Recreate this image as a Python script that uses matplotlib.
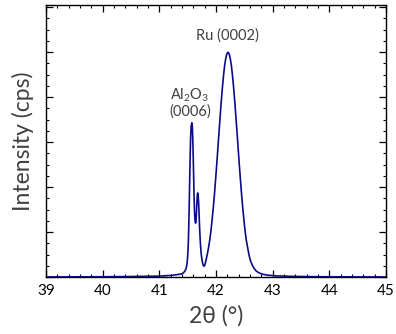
import matplotlib
matplotlib.use("Agg")
import matplotlib.pyplot as plt
from matplotlib.ticker import MultipleLocator, NullFormatter

plt.rcParams['font.family'] = ['Lato', 'DejaVu Sans']
plt.rcParams['mathtext.fontset'] = 'custom'
plt.rcParams['mathtext.rm'] = 'Lato'
plt.rcParams['mathtext.it'] = 'Lato:italic'

# 2theta (degrees)
two_theta = [39.0, 40.0, 40.5, 41.0, 41.2, 41.3, 41.40, 41.43, 41.45, 41.47,
             41.485, 41.495, 41.505, 41.513, 41.521, 41.529, 41.537, 41.545,
             41.553, 41.561, 41.566, 41.574, 41.582, 41.590, 41.598, 41.606,
             41.614, 41.622, 41.630, 41.638, 41.645, 41.652, 41.660, 41.668,
             41.676, 41.684, 41.692, 41.700, 41.708, 41.716, 41.724, 41.732,
             41.740, 41.753, 41.765, 41.775, 41.788, 41.800, 41.812, 41.832,
             41.852, 41.872, 41.892, 41.912, 41.932, 41.952, 41.972, 41.992,
             42.012, 42.032, 42.052, 42.072, 42.092, 42.112, 42.132, 42.152,
             42.172, 42.192, 42.212, 42.232, 42.252, 42.272, 42.292, 42.312,
             42.332, 42.352, 42.372, 42.392, 42.412, 42.432, 42.452, 42.472,
             42.492, 42.512, 42.532, 42.552, 42.572, 42.592, 42.612, 42.642,
             42.672, 42.712, 42.762, 42.812, 42.912, 43.062, 43.312, 43.612,
             44.012, 44.512, 45.0]
# intensity (arbitrary units; the y axis carries no labels)
intensity = [0.0, 0.005, 0.01, 0.02, 0.035, 0.05, 0.07, 0.10, 0.13, 0.18,
             0.26, 0.38, 0.56, 0.82, 1.20, 1.70, 2.25, 2.75,
             3.12, 3.35, 3.38, 3.43, 3.35, 3.08, 2.68, 2.20,
             1.75, 1.42, 1.25, 1.20, 1.21, 1.35, 1.58, 1.78,
             1.87, 1.84, 1.68, 1.45, 1.18, 0.95, 0.76, 0.62,
             0.50, 0.38, 0.30, 0.26, 0.24, 0.26, 0.31, 0.42,
             0.54, 0.68, 0.84, 1.04, 1.28, 1.54, 1.83, 2.15,
             2.49, 2.84, 3.20, 3.55, 3.89, 4.20, 4.47, 4.70,
             4.86, 4.965, 5.00, 4.965, 4.86, 4.70, 4.47, 4.20,
             3.89, 3.55, 3.20, 2.84, 2.49, 2.15, 1.83, 1.54,
             1.28, 1.04, 0.84, 0.70, 0.56, 0.44, 0.35, 0.26,
             0.19, 0.13, 0.09, 0.065, 0.04, 0.025, 0.015, 0.008,
             0.004, 0.002, 0.0]

x_ticks = [39, 40, 41, 42, 43, 44, 45]
ru_label = "Ru (0002)"
al_label = "Al$_2$O$_3$\n(0006)"

fig = plt.figure(figsize=(3.96, 3.34), dpi=100)
ax = fig.add_axes([0.1162, 0.1707, 0.8585, 0.8143])
ax.plot(two_theta, intensity, color='#0b0b8a', lw=1.2,
        solid_joinstyle='round', antialiased=True)

ax.set_xlim(39, 45)
ax.set_ylim(0, 6.05)
ax.set_xticks(x_ticks)
ax.set_xticklabels([str(t) for t in x_ticks])
ax.xaxis.set_minor_locator(MultipleLocator(0.2))
ax.yaxis.set_major_locator(MultipleLocator(1))
ax.yaxis.set_minor_locator(MultipleLocator(0.25))
ax.yaxis.set_major_formatter(NullFormatter())
ax.tick_params(which='both', direction='in', top=True, right=True, colors='black')
ax.tick_params(which='major', length=5, width=0.9, labelsize=11, pad=5)
ax.tick_params(which='minor', length=2.5, width=0.8)
for s in ax.spines.values():
    s.set_linewidth(1.0)

ax.set_xlabel("2θ (°)", fontsize=16.5, color='#404040', labelpad=5)
ax.set_ylabel("Intensity (cps)", fontsize=16.5, color='#404040', labelpad=4)

ax.text(42.2, 5.38, ru_label, ha='center', va='center', fontsize=10.5, color='#404040')
ax.text(41.54, 3.87, al_label, ha='center', va='center', fontsize=10.5, color='#404040',
        linespacing=1.05)

fig.savefig("out.png", dpi=100)
